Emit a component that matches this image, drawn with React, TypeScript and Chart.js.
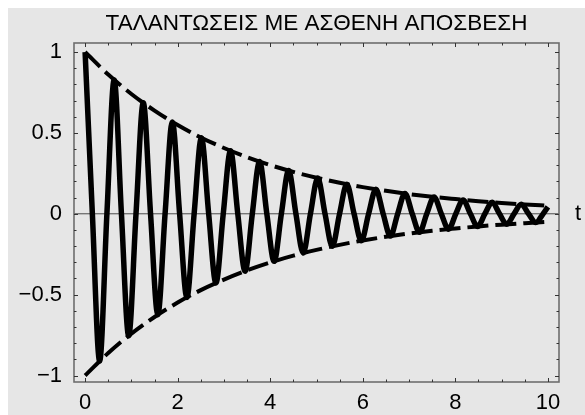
import { useEffect, useRef } from "react";
import { Chart, registerables } from "chart.js";

Chart.register(...registerables);

const TITLE = "ΤΑΛΑΝΤΩΣΕΙΣ ΜΕ ΑΣΘΕΝΗ ΑΠΟΣΒΕΣΗ";
const AXIS_LABEL = "t";
const FONT = "'Liberation Sans', Arial, Helvetica, sans-serif";

// Damped oscillation: extrema and zero crossings
const tSamples = [
  0, 0.157, 0.314, 0.471, 0.628, 0.785, 0.942, 1.1, 1.257, 1.414, 1.571, 1.728,
  1.885, 2.042, 2.199, 2.356, 2.513, 2.67, 2.827, 2.985, 3.142, 3.299, 3.456,
  3.613, 3.77, 3.927, 4.084, 4.241, 4.398, 4.555, 4.712, 4.869, 5.027, 5.184,
  5.341, 5.498, 5.655, 5.812, 5.969, 6.126, 6.283, 6.44, 6.597, 6.754, 6.912,
  7.069, 7.226, 7.383, 7.54, 7.697, 7.854, 8.011, 8.168, 8.325, 8.482, 8.639,
  8.796, 8.954, 9.111, 9.268, 9.425, 9.582, 9.739, 9.896, 10,
];
const displacement = [
  1, 0, -0.91, 0, 0.828, 0, -0.754, 0, 0.686, 0, -0.624, 0, 0.568, 0, -0.517, 0,
  0.47, 0, -0.428, 0, 0.39, 0, -0.355, 0, 0.323, 0, -0.294, 0, 0.267, 0, -0.243,
  0, 0.221, 0, -0.201, 0, 0.183, 0, -0.167, 0, 0.152, 0, -0.138, 0, 0.126, 0,
  -0.114, 0, 0.104, 0, -0.095, 0, 0.086, 0, -0.078, 0, 0.071, 0, -0.065, 0,
  0.059, 0, -0.054, 0, 0.043,
];

// Amplitude envelope
const envelopeT = [
  0, 0.5, 1, 1.5, 2, 2.5, 3, 3.5, 4, 4.5, 5, 5.5, 6, 6.5, 7, 7.5, 8, 8.5, 9,
  9.5, 10,
];
const envelopeUpper = [
  1, 0.861, 0.741, 0.638, 0.549, 0.472, 0.407, 0.35, 0.301, 0.259, 0.223,
  0.192, 0.165, 0.142, 0.122, 0.105, 0.091, 0.078, 0.067, 0.058, 0.05,
];
const envelopeLower = [
  -1, -0.861, -0.741, -0.638, -0.549, -0.472, -0.407, -0.35, -0.301, -0.259,
  -0.223, -0.192, -0.165, -0.142, -0.122, -0.105, -0.091, -0.078, -0.067,
  -0.058, -0.05,
];

const xTickValues = [0, 2, 4, 6, 8, 10];
const xTickLabels = ["0", "2", "4", "6", "8", "10"];
const yTickValues = [-1, -0.5, 0, 0.5, 1];
const yTickLabels = ["\u22121", "\u22120.5", "0", "0.5", "1"];

const FRAME_COLOR = "#6e6e6e";

const framePlugin = {
  id: "frame",
  beforeDatasetsDraw(chart: any) {
    const { ctx, chartArea: a, scales } = chart;
    const y0 = scales.y.getPixelForValue(0);
    ctx.save();
    ctx.strokeStyle = "#4a4a4a";
    ctx.lineWidth = 1;
    ctx.beginPath();
    ctx.moveTo(a.left, y0);
    ctx.lineTo(a.right, y0);
    ctx.stroke();
    ctx.restore();
  },
  afterDraw(chart: any) {
    const { ctx, chartArea: a, scales } = chart;
    const xs = scales.x;
    const ys = scales.y;
    ctx.save();
    ctx.strokeStyle = FRAME_COLOR;
    ctx.lineWidth = 1.6;
    ctx.strokeRect(a.left, a.top, a.right - a.left, a.bottom - a.top);

    // inward tick marks on all four sides
    ctx.strokeStyle = "#333";
    ctx.lineWidth = 1;
    ctx.beginPath();
    for (let i = 0; i <= 20; i++) {
      const v = i * 0.5;
      const len = i % 4 === 0 ? 4 : 2.5;
      const px = Math.round(xs.getPixelForValue(v)) + 0.5;
      ctx.moveTo(px, a.bottom);
      ctx.lineTo(px, a.bottom - len);
      ctx.moveTo(px, a.top);
      ctx.lineTo(px, a.top + len);
    }
    for (let i = -10; i <= 10; i++) {
      const v = i * 0.1;
      const len = i % 5 === 0 ? 4 : 2.5;
      const py = Math.round(ys.getPixelForValue(v)) + 0.5;
      ctx.moveTo(a.left, py);
      ctx.lineTo(a.left + len, py);
      ctx.moveTo(a.right, py);
      ctx.lineTo(a.right - len, py);
    }
    ctx.stroke();

    ctx.fillStyle = "#000";
    ctx.font = `22.5px ${FONT}`;
    ctx.textAlign = "center";
    ctx.textBaseline = "middle";
    ctx.fillText(TITLE, (a.left + a.right) / 2, 16);

    ctx.font = `22px ${FONT}`;
    ctx.textAlign = "center";
    ctx.fillText(AXIS_LABEL, a.right + 19, ys.getPixelForValue(0));
    ctx.restore();
  },
};

export default function App() {
  const canvasRef = useRef<HTMLCanvasElement | null>(null);

  useEffect(() => {
    const canvas = canvasRef.current;
    if (!canvas) return;
    const chart = new Chart(canvas, {
      type: "line",
      data: {
        datasets: [
          {
            data: envelopeT.map((t, i) => ({ x: t, y: envelopeUpper[i] })),
            borderColor: "#000",
            borderWidth: 4,
            borderDash: [21, 7],
            borderCapStyle: "butt",
            pointRadius: 0,
            cubicInterpolationMode: "monotone",
            fill: false,
          },
          {
            data: envelopeT.map((t, i) => ({ x: t, y: envelopeLower[i] })),
            borderColor: "#000",
            borderWidth: 4,
            borderDash: [21, 7],
            borderCapStyle: "butt",
            pointRadius: 0,
            cubicInterpolationMode: "monotone",
            fill: false,
          },
          {
            data: tSamples.map((t, i) => ({ x: t, y: displacement[i] })),
            borderColor: "#000",
            borderWidth: 5.5,
            borderJoinStyle: "round",
            pointRadius: 0,
            cubicInterpolationMode: "monotone",
            fill: false,
          },
        ],
      },
      options: {
        animation: false,
        responsive: false,
        maintainAspectRatio: false,
        layout: { padding: { top: 35, right: 26, left: 0, bottom: 0 } },
        plugins: {
          legend: { display: false },
          title: { display: false },
          tooltip: { enabled: false },
        },
        scales: {
          x: {
            type: "linear",
            min: -0.24,
            max: 10.24,
            afterBuildTicks: (s: any) => {
              s.ticks = xTickValues.map((v) => ({ value: v }));
            },
            afterFit: (s: any) => {
              s.height = 33;
            },
            grid: { display: false, drawTicks: false },
            border: { display: false },
            ticks: {
              padding: 8,
              color: "#000",
              font: { family: FONT, size: 22 },
              maxRotation: 0,
              autoSkip: false,
              callback: (v: any) => {
                const i = xTickValues.indexOf(Number(v));
                return i >= 0 ? xTickLabels[i] : "";
              },
            },
          },
          y: {
            type: "linear",
            min: -1.04,
            max: 1.056,
            afterBuildTicks: (s: any) => {
              s.ticks = yTickValues.map((v) => ({ value: v }));
            },
            afterFit: (s: any) => {
              s.width = 66;
            },
            grid: { display: false, drawTicks: false },
            border: { display: false },
            ticks: {
              padding: 12,
              color: "#000",
              font: { family: FONT, size: 22 },
              autoSkip: false,
              callback: (v: any) => {
                const i = yTickValues.indexOf(Number(v));
                return i >= 0 ? yTickLabels[i] : "";
              },
            },
          },
        },
      },
      plugins: [framePlugin],
    });
    return () => chart.destroy();
  }, []);

  return (
    <div
      style={{
        position: "fixed",
        left: 8,
        top: 8,
        width: 577,
        height: 407,
        background: "#e6e6e6",
      }}
    >
      <canvas ref={canvasRef} width={577} height={407} style={{ display: "block" }} />
    </div>
  );
}
